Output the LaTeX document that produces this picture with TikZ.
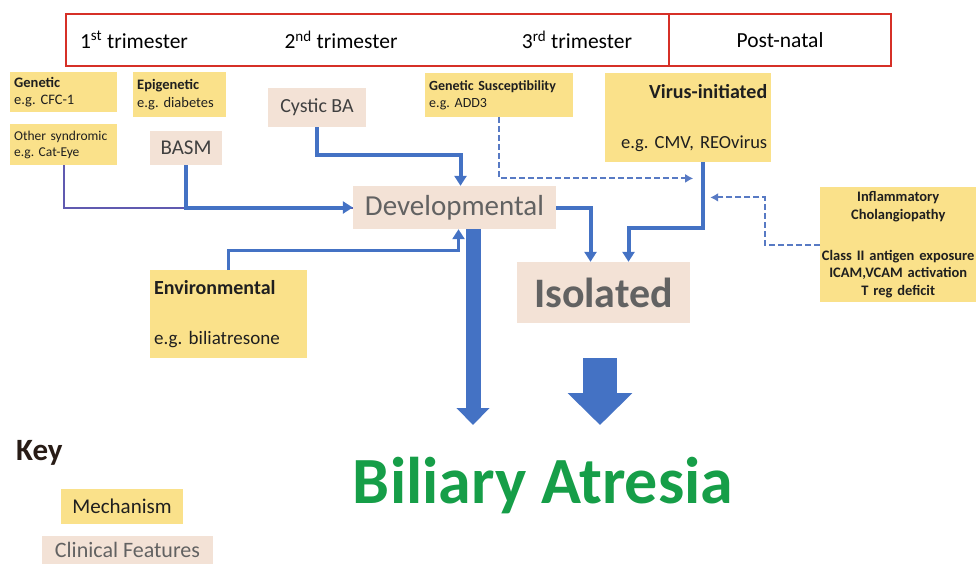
\documentclass[tikz,border=0pt]{standalone}
\usepackage{fontspec}
\setmainfont{Carlito}
\usetikzlibrary{arrows.meta}
\definecolor{mechyellow}{RGB}{250,225,138}
\definecolor{clinpink}{RGB}{243,226,214}
\definecolor{clingray}{RGB}{98,98,98}
\definecolor{flowblue}{RGB}{68,114,196}
\definecolor{dashblue}{RGB}{88,122,196}
\definecolor{synpurple}{RGB}{96,90,176}
\definecolor{periodred}{RGB}{214,48,39}
\definecolor{bagreen}{RGB}{22,158,72}
\definecolor{keybrown}{RGB}{40,28,22}
\newcommand{\fs}[1]{\fontsize{#1}{1.2\dimexpr#1pt\relax}\selectfont}
\hyphenpenalty=10000
\exhyphenpenalty=10000
\tikzset{
  mech/.style={fill=mechyellow, text=black!88, inner xsep=4pt, inner ysep=0pt,
    align=left, font=\fs{15}},
  clin/.style={fill=clinpink, text=clingray, inner sep=0pt},
  period/.style={draw=periodred, line width=2pt, inner sep=0pt, anchor=north west},
  flow/.style={draw=flowblue, line width=4pt, -{Triangle[length=10pt,width=12pt]}},
  thinflow/.style={draw=synpurple, line width=2pt},
  dashflow/.style={draw=dashblue, line width=2pt, dash pattern=on 6pt off 3pt,
    -{Latex[length=8pt,width=9pt]}},
  fatflow/.style={draw=flowblue, line width=15pt, -{Triangle[length=17pt,width=32pt]}},
  blockflow/.style={draw=flowblue, line width=34pt, -{Triangle[length=32pt,width=63pt]}}
}

\begin{document}
\frenchspacing
\begin{tikzpicture}[x=1pt, y=-1pt]
  \useasboundingbox (0,0) rectangle (976,563);

  % time line
  \node[period, minimum width=603, minimum height=52] (pre) at (65,13) {};
  \node[period, minimum width=222, minimum height=52, font=\fs{21.5}] (post) at (668,13) {Post-natal};
  \foreach \x/\lab in {134/1\textsuperscript{st}, 341/2\textsuperscript{nd}, 577/3\textsuperscript{rd}}
    \node[font=\fs{21.5}] (tri\x) at (\x,40) {\lab\ trimester};

  % mechanisms
  \node[mech, anchor=north west, text width=99pt, minimum height=40pt, font=\fs{14.5}] (gen)
    at (10,72) {\textbf{Genetic}\\e.g. CFC-1};
  \node[mech, anchor=north west, text width=99pt, minimum height=41pt, font=\fs{13.5}] (syn)
    at (10,124) {Other syndromic\\e.g. Cat-Eye};
  \node[mech, anchor=north west, text width=85pt, minimum height=45pt, font=\fs{14.5}] (epi)
    at (133,72) {\textbf{Epigenetic}\\e.g. diabetes};
  \node[mech, anchor=north west, text width=140pt, minimum height=44pt, font=\fs{14}] (sus)
    at (425,73) {\textbf{Genetic Susceptibility}\\e.g. ADD3};
  \node[mech, anchor=north west, text width=158pt, minimum height=89pt, align=right, font=\fs{18.5}] (vir)
    at (605,73) {{\fs{20}\bfseries Virus-initiated}\\[28pt]e.g. CMV, REOvirus};
  \node[mech, anchor=north west, text width=149pt, minimum height=88pt, font=\fs{19}] (env)
    at (150,270) {{\fs{20}\bfseries Environmental}\\[28pt]e.g. biliatresone};
  \node[mech, anchor=north west, text width=156pt, inner xsep=0pt, minimum height=115pt, align=center,
    font=\fs{14.5}\bfseries] (inf) at (820,187)
    {Inflammatory\\Cholangiopathy\\[24pt]Class II antigen exposure\\ICAM,VCAM activation\\T reg deficit};

  % clinical features
  \node[clin, text=black!75, minimum width=72, minimum height=34, font=\fs{21}] (basm)
    at (186,148) {BASM};
  \node[clin, text=black!75, minimum width=98, minimum height=39, font=\fs{20}] (cys)
    at (317,107.5) {Cystic BA};
  \node[clin, minimum width=203, minimum height=43, font=\fs{29}] (dev)
    at (454.5,207.5) {Developmental};
  \node[clin, minimum width=173, minimum height=61, font=\fs{42}\bfseries] (iso)
    at (603.5,292.5) {Isolated};

  \node[anchor=base, text=bagreen, font=\fs{66}\bfseries] (ba) at (543,503) {Biliary Atresia};

  % key
  \node[anchor=base west, text=keybrown, font=\fs{31}\bfseries, inner sep=0pt] (key)
    at (16,460) {Key};
  \node[mech, align=center, minimum width=122, minimum height=35, font=\fs{21}] (keymech)
    at (122,506.5) {Mechanism};
  \node[clin, minimum width=171, minimum height=28, font=\fs{22}] (keyclin)
    at (127.5,550) {Clinical Features};

  % connectors
  \draw[thinflow] (syn.south) |- (dev.west);
  \draw[flow] (basm.south) |- (dev.west);
  \draw[flow] (cys.south) -- ++(0,28) -| ([xshift=6pt]dev.north);
  \draw[flow, line width=3pt] (env.north) -- ++(0,-20) -| ([xshift=4pt]dev.south);
  \draw[flow] (dev.east) -| ([xshift=-13pt]iso.north);
  \draw[flow] ([xshift=15pt]vir.south) -- ++(0,66) -| ([xshift=25pt]iso.north);
  \draw[dashflow] (sus.south) |- ([xshift=5pt,yshift=-16pt]vir.south);
  \draw[dashflow] (inf.west) -- ++(-55,0) |- ([xshift=22pt,yshift=-35pt]vir.south);

  \coordinate (devtip) at (473,425);
  \draw[fatflow] ([xshift=18.5pt]dev.south) -- (devtip);
  \coordinate (blktop) at (600,358);
  \coordinate (blktip) at (600,425);
  \draw[blockflow] (blktop) -- (blktip);
\end{tikzpicture}
\end{document}
